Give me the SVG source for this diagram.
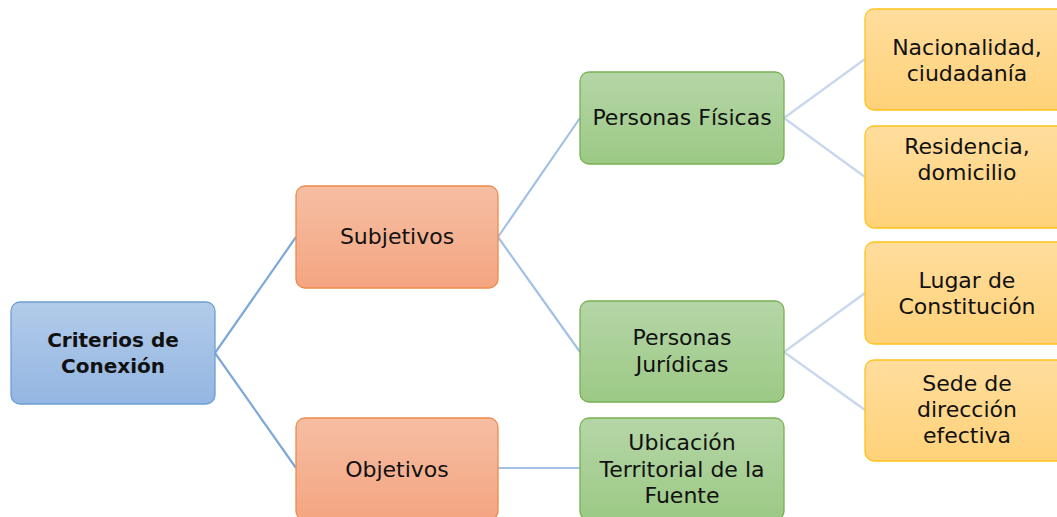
<svg xmlns="http://www.w3.org/2000/svg" width="1057" height="517" viewBox="0 0 1057 517">
<defs>
<linearGradient id="gBlue" x1="0" y1="0" x2="0" y2="1"><stop offset="0" stop-color="#b2cbe9"/><stop offset="1" stop-color="#94b6e2"/></linearGradient>
<linearGradient id="gOrange" x1="0" y1="0" x2="0" y2="1"><stop offset="0" stop-color="#f6bea4"/><stop offset="1" stop-color="#f4a580"/></linearGradient>
<linearGradient id="gGreen" x1="0" y1="0" x2="0" y2="1"><stop offset="0" stop-color="#b5d6a7"/><stop offset="1" stop-color="#9cc985"/></linearGradient>
<linearGradient id="gYellow" x1="0" y1="0" x2="0" y2="1"><stop offset="0" stop-color="#ffdd9d"/><stop offset="1" stop-color="#ffd279"/></linearGradient>
</defs>
<style>
.blue{fill:url(#gBlue);stroke:#6e9fd4;stroke-width:1.3}
.orange{fill:url(#gOrange);stroke:#ee8a4a;stroke-width:1.3}
.green{fill:url(#gGreen);stroke:#77b152;stroke-width:1.3}
.yellow{fill:url(#gYellow);stroke:#ffc21a;stroke-width:1.3}
text{font-family:"DejaVu Sans","Noto Sans",sans-serif;font-size:22px;fill:#111;text-anchor:middle}
.b{font-weight:bold;font-size:20px}
.c1{stroke:#7ea8da;stroke-width:2.2;fill:none}
.c2{stroke:#a3c0e6;stroke-width:2.2;fill:none}
.c3{stroke:#c6d7ef;stroke-width:2.2;fill:none}
</style>
<rect width="1057" height="517" fill="#ffffff"/>
<g id="connectors">
<path class="c1" d="M215 353 L296 237 M215 353 L296 468"/>
<path class="c2" d="M498 237 L580 118 M498 237 L580 352 M498 468 L580 468"/>
<path class="c3" d="M784 118 L865 59 M784 118 L865 177 M784 352 L865 293 M784 352 L865 410"/>
</g>
<g id="root"><rect class="blue" x="11" y="302" width="204" height="102" rx="9"/><text class="b" x="113" y="347">Criterios de</text><text class="b" x="113" y="373">Conexión</text></g>
<g id="subjetivos"><rect class="orange" x="296" y="186" width="202" height="102" rx="9"/><text x="397" y="244">Subjetivos</text></g>
<g id="objetivos"><rect class="orange" x="296" y="418" width="202" height="102" rx="9"/><text x="397" y="477">Objetivos</text></g>
<g id="personas-fisicas"><rect class="green" x="580" y="72" width="204" height="92" rx="9"/><text x="682" y="125">Personas Físicas</text></g>
<g id="personas-juridicas"><rect class="green" x="580" y="301" width="204" height="101" rx="9"/><text x="682" y="345">Personas</text><text x="682" y="372">Jurídicas</text></g>
<g id="ubicacion"><rect class="green" x="580" y="418" width="204" height="102" rx="9"/><text x="682" y="450">Ubicación</text><text x="682" y="477">Territorial de la</text><text x="682" y="503">Fuente</text></g>
<g id="nacionalidad"><rect class="yellow" x="865" y="9" width="204" height="101" rx="9"/><text x="967" y="55">Nacionalidad,</text><text x="967" y="81">ciudadanía</text></g>
<g id="residencia"><rect class="yellow" x="865" y="126" width="204" height="102" rx="9"/><text x="967" y="154">Residencia,</text><text x="967" y="180">domicilio</text></g>
<g id="lugar"><rect class="yellow" x="865" y="242" width="204" height="102" rx="9"/><text x="967" y="288">Lugar de</text><text x="967" y="314">Constitución</text></g>
<g id="sede"><rect class="yellow" x="865" y="360" width="204" height="101" rx="9"/><text x="967" y="391">Sede de</text><text x="967" y="417">dirección</text><text x="967" y="443">efectiva</text></g>
</svg>
